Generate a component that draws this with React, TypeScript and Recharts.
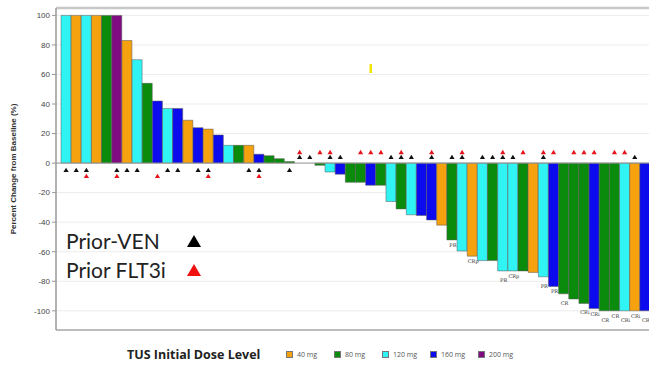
import React from 'react';
import {
  ComposedChart,
  Bar,
  Cell,
  Line,
  XAxis,
  YAxis,
  CartesianGrid,
  ReferenceLine,
  LabelList,
  Legend,
} from 'recharts';

// Percent change from baseline, one value per patient (waterfall order)
const changes = [
  100, 100, 100, 100, 100, 100, 83, 70, 54, 42, 37, 37, 29, 24, 23, 19, 12, 12, 12, 6,
  5, 3, 1, 0, 0, -1.5, -6, -7.5, -13, -13, -15, -15, -26, -31, -35, -35.5, -38.5, -42, -52, -59.5,
  -63, -66, -66, -73, -73, -73, -74, -77, -83.5, -88.5, -92, -95, -98.5, -100, -100, -100, -100, -100,
];

// TUS initial dose level (mg) per patient
const doses = [
  120, 40, 120, 40, 80, 200, 40, 120, 80, 160, 120, 160, 40, 160, 40, 160, 120, 80, 40, 160,
  80, 80, 80, 80, 80, 80, 120, 160, 80, 80, 160, 80, 120, 80, 120, 160, 160, 40, 80, 120,
  40, 120, 80, 120, 120, 80, 40, 120, 160, 80, 80, 80, 160, 80, 80, 120, 40, 160,
];

// Prior venetoclax (black triangle)
const priorVen = [
  1, 1, 1, 0, 0, 1, 1, 1, 0, 0, 1, 1, 0, 1, 1, 0, 0, 0, 1, 1,
  0, 0, 1, 1, 1, 0, 1, 1, 0, 0, 0, 0, 1, 1, 1, 0, 1, 0, 1, 1,
  0, 1, 1, 1, 1, 0, 0, 1, 0, 0, 0, 0, 0, 0, 0, 0, 1, 0,
];

// Prior FLT3 inhibitor (red triangle)
const priorFlt3i = [
  0, 0, 1, 0, 0, 1, 0, 0, 0, 1, 0, 0, 0, 0, 1, 0, 0, 0, 0, 1,
  0, 0, 0, 1, 0, 1, 1, 0, 0, 1, 1, 1, 0, 1, 0, 0, 1, 0, 0, 1,
  0, 0, 0, 1, 0, 1, 0, 1, 1, 0, 1, 1, 1, 0, 1, 1, 0, 0,
];

// Best response labels
const responses = [
  '', '', '', '', '', '', '', '', '', '', '', '', '', '', '', '', '', '', '', '',
  '', '', '', '', '', '', '', '', '', '', '', '', '', '', '', '', '', '', 'PR', '',
  'CRp', '', '', 'PR', 'CRp', '', '', 'PR', 'PR', 'CR', '', 'CRi', 'CRi', 'CR', 'CR', 'CRi', 'CRi', 'CR',
];

const doseLevels = [40, 80, 120, 160, 200];
const doseLabels = ['40 mg', '80 mg', '120 mg', '160 mg', '200 mg'];
const doseColors = ['#F6A20F', '#0B8B0B', '#30F4F4', '#0B0BEE', '#7F0B80'];
const yTicks = [-100, -80, -60, -40, -20, 0, 20, 40, 60, 80, 100];

const colorOf = (d: number) => doseColors[doseLevels.indexOf(d)];

const rows = changes.map((c, i) => ({
  id: `P${i + 1}`,
  change: c,
  dose: doses[i],
  ven: priorVen[i] ? (c > 0 ? -4.7 : 4.1) : null,
  flt: priorFlt3i[i] ? (c > 0 ? -8.8 : 7.4) : null,
  resp: responses[i],
}));

const makeTri = (color: string) => (props: any) => {
  const { cx, cy, value, index } = props;
  if (value == null || cy == null || isNaN(cy)) return <g key={`t-${index}`} />;
  return (
    <path
      key={`t-${index}`}
      d={`M${cx},${cy - 2.4} L${cx + 2.6},${cy + 2} L${cx - 2.6},${cy + 2} Z`}
      fill={color}
    />
  );
};

const RespLabel = (props: any) => {
  const { x, y, width, height, value, index } = props;
  if (!value) return null;
  const bottom = Math.max(y, y + height);
  // stagger neighbouring labels so they do not collide
  const stagger = index % 2 === 1 ? 4 : 0;
  return (
    <text
      x={x + width / 2 + 1}
      y={bottom + 7 + stagger}
      textAnchor="middle"
      fontSize={5}
      fontFamily="'DejaVu Serif', serif"
      fill="#333"
    >
      {value}
    </text>
  );
};

const DoseLegend = () => (
  <div
    style={{
      display: 'flex',
      alignItems: 'center',
      fontFamily: "'Open Sans', sans-serif",
      height: 14,
    }}
  >
    <span
      style={{ fontWeight: 700, fontSize: 12.5, color: '#222', marginLeft: 127, width: 159 }}
    >
      TUS Initial Dose Level
    </span>
    {doseLabels.map((lbl, i) => (
      <span key={lbl} style={{ display: 'flex', alignItems: 'center', width: 48 }}>
        <span
          style={{
            display: 'inline-block',
            width: 5,
            height: 5,
            background: doseColors[i],
            border: '1px solid #777',
            marginRight: 4,
          }}
        />
        <span style={{ fontSize: 7, color: '#555' }}>{lbl}</span>
      </span>
    ))}
  </div>
);

const legendText: React.CSSProperties = {
  fontFamily: 'Lato, sans-serif',
  fontSize: 21,
  color: '#222',
  width: 119,
  display: 'inline-block',
};

export default function App() {
  return (
    <div
      style={{
        position: 'fixed',
        left: 0,
        top: 0,
        width: 649,
        height: 366,
        overflow: 'hidden',
        background: '#fff',
      }}
    >
      <ComposedChart
        width={660}
        height={366}
        data={rows}
        margin={{ top: 8, right: 5, bottom: 36, left: 10 }}
        barCategoryGap={0}
      >
        <CartesianGrid vertical={false} stroke="#ececec" />
        <XAxis dataKey="id" hide padding={{ left: 5, right: 5 }} />
        <YAxis
          width={46}
          domain={[-113, 105]}
          ticks={yTicks}
          interval={0}
          allowDataOverflow
          tick={{ fontSize: 8, fill: '#444', fontFamily: 'Liberation Sans, Arial, sans-serif' }}
          tickSize={4}
          tickMargin={2}
          axisLine={{ stroke: '#999', strokeWidth: 1.5 }}
          tickLine={{ stroke: '#999' }}
          label={{
            value: 'Percent Change from Baseline (%)',
            angle: -90,
            position: 'insideLeft',
            offset: 3,
            style: {
              fontSize: 8,
              fontWeight: 700,
              fill: '#333',
              fontFamily: 'Liberation Sans, Arial, sans-serif',
              textAnchor: 'middle',
            },
          }}
        />
        <ReferenceLine y={105} stroke="#c8c8c8" strokeWidth={2.5} />
        <ReferenceLine y={-113} stroke="#bdbdbd" strokeWidth={2} />
        <ReferenceLine y={0} stroke="#9a9a9a" strokeWidth={1} />
        <Bar dataKey="change" isAnimationActive={false} stroke="#555" strokeWidth={0.5}>
          {rows.map((r) => (
            <Cell key={r.id} fill={colorOf(r.dose)} />
          ))}
          <LabelList dataKey="resp" content={RespLabel} />
        </Bar>
        <Line
          dataKey="ven"
          stroke="none"
          isAnimationActive={false}
          dot={makeTri('#111')}
          activeDot={false}
        />
        <Line
          dataKey="flt"
          stroke="none"
          isAnimationActive={false}
          dot={makeTri('#E8141B')}
          activeDot={false}
        />
        <ReferenceLine
          segment={[
            { x: 'P31', y: 61 },
            { x: 'P31', y: 67 },
          ]}
          stroke="#F2E600"
          strokeWidth={2.5}
        />
        <Legend
          layout="horizontal"
          verticalAlign="middle"
          align="center"
          wrapperStyle={{ top: 347, left: 0, width: 649 }}
          content={DoseLegend}
        />
      </ComposedChart>
      <div style={{ position: 'absolute', left: 66, top: 226, lineHeight: '29px' }}>
        <div style={{ display: 'flex', alignItems: 'center' }}>
          <span style={legendText}>Prior-VEN</span>
          <svg width={18} height={14}>
            <path d="M9,1 L16,13 L2,13 Z" fill="#000" />
          </svg>
        </div>
        <div style={{ display: 'flex', alignItems: 'center' }}>
          <span style={legendText}>Prior FLT3i</span>
          <svg width={18} height={14}>
            <path d="M9,1 L16,13 L2,13 Z" fill="#F01010" />
          </svg>
        </div>
      </div>
    </div>
  );
}
